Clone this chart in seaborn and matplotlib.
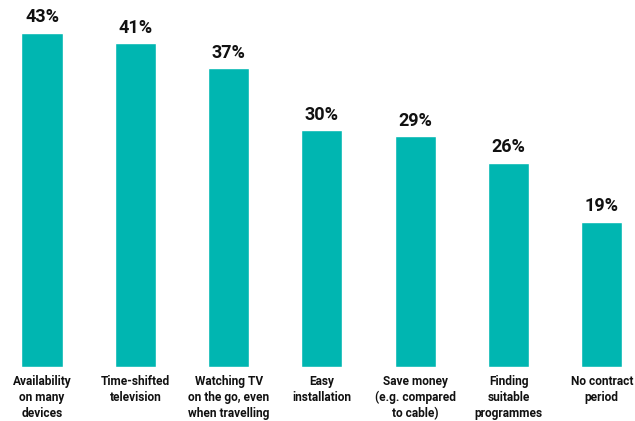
import matplotlib
matplotlib.use("Agg")
import matplotlib.pyplot as plt
import seaborn as sns
import pandas as pd

categories = [
    "Availability\non many\ndevices",
    "Time-shifted\ntelevision",
    "Watching TV\non the go, even\nwhen travelling",
    "Easy\ninstallation",
    "Save money\n(e.g. compared\nto cable)",
    "Finding\nsuitable\nprogrammes",
    "No contract\nperiod",
]
# bar heights
values = [43.0, 41.7, 38.4, 30.5, 29.7, 26.3, 18.7]
value_labels = ["43%", "41%", "37%", "30%", "29%", "26%", "19%"]

df = pd.DataFrame({"cat": categories, "val": values})

sns.set_style("white")
plt.rcParams['font.family'] = ['Roboto', 'DejaVu Sans']

fig = plt.figure(figsize=(6.35, 4.21), dpi=100)
ax = fig.add_axes([0, (421 - 367) / 421, 1, 367 / 421])

sns.barplot(data=df, x="cat", y="val", color="#00B6B1", width=0.44,
            saturation=1, ax=ax)

ax.set_xlim(-0.45, 6.355)
ax.set_ylim(0, 47.2)
for p, lab in zip(ax.patches, value_labels):
    ax.annotate(lab, (p.get_x() + p.get_width() / 2, p.get_height()),
                xytext=(0, 4.5), textcoords="offset points",
                ha="center", va="bottom", fontsize=13, fontweight="bold",
                color="#111111")

ax.set_xlabel("")
ax.set_ylabel("")
ax.set_yticks([])
ax.tick_params(axis="x", length=0, pad=6)
for t in ax.get_xticklabels():
    t.set_fontweight("bold")
    t.set_fontsize(8.6)
    t.set_color("#111111")
    t.set_linespacing(1.28)
sns.despine(ax=ax, left=True, bottom=True)

fig.savefig("out.png", dpi=100)
